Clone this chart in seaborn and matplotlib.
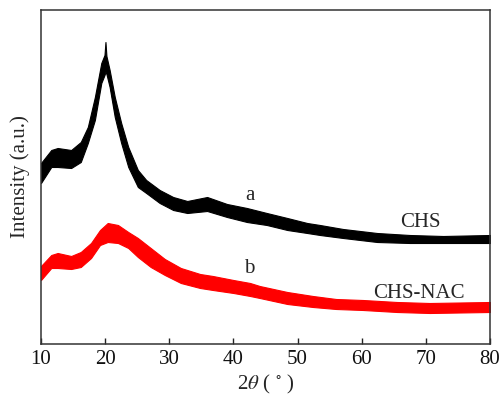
import numpy as np
import pandas as pd
import matplotlib
matplotlib.use("Agg")
import matplotlib.pyplot as plt
import seaborn as sns

# 2theta sample positions and noise-band envelopes (arbitrary intensity units)
chs_angle = [10, 11.6, 12.6, 14.7, 16.2, 17.3, 18.4, 19.4, 19.9, 20.05, 20.2, 20.7, 21.5, 22.5,
             23.6, 25.1, 26.4, 28.5, 30.6, 32.8, 35.9, 39, 42.1, 45.2, 48.4, 51.5, 53.5,
             57.1, 62.4, 67.5, 72.7, 80]
chs_upper = [181, 194, 196, 194, 202, 217, 247, 281, 289, 302, 288, 274, 247, 221,
             197, 174, 164, 154, 147, 143, 147, 140, 136, 131, 126, 121, 119,
             115, 111, 109, 108, 109]
chs_lower = [161, 177, 177, 176, 182, 201, 224, 261, 269, 272, 270, 257, 227, 201,
             177, 157, 151, 141, 134, 131, 133, 127, 122, 119, 114, 111, 109,
             106, 102, 101, 101, 101]

nac_angle = [10, 11.6, 12.6, 14.7, 16.2, 17.8, 19.2, 20.4, 22, 23.6, 25.1, 27.1, 29.3,
             31.8, 34.8, 36.8, 40, 42.6, 44.1, 48.4, 52.4, 56, 60.2, 65.5, 70.6, 80]
nac_upper = [78, 89, 91, 88, 92, 101, 114, 121, 119, 112, 106, 96, 85,
             76, 70, 68, 64, 61, 58, 52, 48, 45, 44, 42, 41, 42]
nac_lower = [64, 76, 76, 75, 77, 86, 99, 102, 101, 96, 87, 77, 69,
             61, 56, 54, 51, 48, 46, 40, 37, 35, 34, 32, 31, 32]

samples = ["CHS", "CHS-NAC"]
curve_letters = ["a", "b"]
colors = {"CHS": "#000000", "CHS-NAC": "#ff0000"}

rows = []
for name, ang, up, lo in [("CHS", chs_angle, chs_upper, chs_lower),
                          ("CHS-NAC", nac_angle, nac_upper, nac_lower)]:
    for a, u, l in zip(ang, up, lo):
        rows.append({"sample": name, "angle": a, "intensity": u})
        rows.append({"sample": name, "angle": a, "intensity": l})
df = pd.DataFrame(rows)

sns.set_style("ticks")
plt.rcParams["font.family"] = ["Liberation Serif", "DejaVu Serif"]
plt.rcParams["mathtext.fontset"] = "stix"

fig = plt.figure(figsize=(5.02, 3.95), dpi=100)
ax = fig.add_axes([41 / 502, 1 - 344 / 395, 449 / 502, 334 / 395])

sns.lineplot(data=df, x="angle", y="intensity", hue="sample", palette=colors,
             estimator="mean", errorbar=("pi", 100), linewidth=1.6,
             err_kws={"alpha": 1, "linewidth": 0.8}, legend=False, ax=ax)

ax.set_xlim(10, 80)
ax.set_ylim(0, 334)
ax.set_xticks([10, 20, 30, 40, 50, 60, 70, 80])
ax.set_yticks([])
ax.tick_params(axis="x", direction="in", length=4, width=1, labelsize=15, pad=4,
               colors="#222222", labelcolor="#111111")
for s in ax.spines.values():
    s.set_linewidth(1.1)
    s.set_color("#333333")

ax.set_xlabel("2$\\mathit{\\theta}$ ( $^{\\circ}$ )", fontsize=15, labelpad=3)
ax.set_ylabel("Intensity (a.u.)", fontsize=15, labelpad=8)

ax.text(42.6, 144, curve_letters[0], fontsize=15, ha="center", va="baseline")
ax.text(42.5, 71, curve_letters[1], fontsize=15, ha="center", va="baseline")
ax.text(69.2, 117, samples[0], fontsize=15, ha="center", va="baseline")
ax.text(68.9, 46, samples[1], fontsize=15, ha="center", va="baseline")

fig.savefig("out.png", dpi=100)
